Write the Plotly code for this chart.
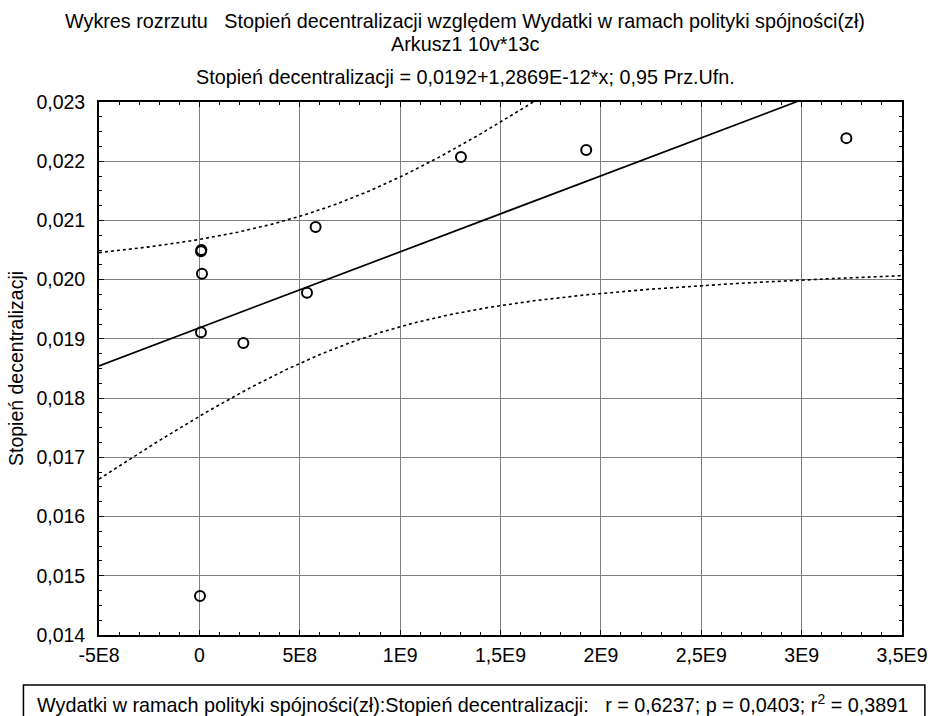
import numpy as np
import plotly.graph_objects as go

# Data (11 cases; two overlap near x=0, y=0,0205)
wydatki = [8e6, 1.0e7, 1.3e7, 8e6, 2.19e8, 5.36e8, 5.79e8, 1.303e9, 1.927e9, 3.223e9, 3e6]
decentralizacja = [0.02048, 0.02050, 0.02010, 0.01911, 0.01893, 0.01978, 0.02089, 0.02207, 0.02219, 0.02239, 0.01466]

x_tickvals = [-5e8, 0, 5e8, 1e9, 1.5e9, 2e9, 2.5e9, 3e9, 3.5e9]
x_ticktext = ["-5E8", "0", "5E8", "1E9", "1,5E9", "2E9", "2,5E9", "3E9", "3,5E9"]
y_tickvals = [0.014, 0.015, 0.016, 0.017, 0.018, 0.019, 0.020, 0.021, 0.022, 0.023]
y_ticktext = ["0,014", "0,015", "0,016", "0,017", "0,018", "0,019", "0,020", "0,021", "0,022", "0,023"]

T_CRIT = 2.262  # t(0.975, df=9)

x = np.array(wydatki)
y = np.array(decentralizacja)
n = len(x)
slope, intercept = np.polyfit(x, y, 1)
resid = y - (intercept + slope * x)
s = np.sqrt(np.sum(resid ** 2) / (n - 2))
xbar = x.mean()
sxx = np.sum((x - xbar) ** 2)

xs = np.linspace(-5e8, 3.5e9, 400)
yfit = intercept + slope * xs
half = T_CRIT * s * np.sqrt(1.0 / n + (xs - xbar) ** 2 / sxx)

FONT = "Liberation Sans, Arial, sans-serif"
FS = 19.5
FT = 19.8

fig = go.Figure()
fig.add_trace(go.Scatter(x=xs, y=yfit, mode="lines", line=dict(color="black", width=1.7), showlegend=False))
fig.add_trace(go.Scatter(x=xs, y=yfit + half, mode="lines", line=dict(color="black", width=1.6, dash="dot"), showlegend=False))
fig.add_trace(go.Scatter(x=xs, y=yfit - half, mode="lines", line=dict(color="black", width=1.6, dash="dot"), showlegend=False))
fig.add_trace(go.Scatter(x=wydatki, y=decentralizacja, mode="markers",
                         marker=dict(symbol="circle-open", size=10, color="black", line=dict(width=2)),
                         showlegend=False))

fig.update_layout(
    width=939, height=716,
    margin=dict(l=99, r=32, t=102, b=81),
    paper_bgcolor="white", plot_bgcolor="white",
    font=dict(family=FONT, size=FS, color="black"),
    xaxis=dict(range=[-5e8, 3.5e9], tickvals=x_tickvals, ticktext=x_ticktext,
               showgrid=True, gridcolor="#808080", gridwidth=1, zeroline=False,
               showline=True, linecolor="black", linewidth=1.8, mirror="allticks",
               ticks="inside", ticklen=5, tickcolor="black",
               minor=dict(dtick=1e8, ticks="inside", ticklen=3, tickcolor="black", showgrid=False),
               tickfont=dict(size=FS), ticklabelstandoff=2),
    yaxis=dict(range=[0.014, 0.023], tickvals=y_tickvals, ticktext=y_ticktext,
               showgrid=True, gridcolor="#808080", gridwidth=1, zeroline=False,
               showline=True, linecolor="black", linewidth=1.8, mirror="allticks",
               ticks="inside", ticklen=5, tickcolor="black",
               minor=dict(dtick=0.00025, ticks="inside", ticklen=3, tickcolor="black", showgrid=False),
               title=dict(text="Stopień decentralizacji", font=dict(size=FS), standoff=8),
               tickfont=dict(size=FS), ticklabelstandoff=8),
)

fig.add_annotation(text="Wykres rozrzutu   Stopień decentralizacji względem Wydatki w ramach polityki spójności(zł)",
                   xref="paper", yref="paper", x=0.456, y=1.152, showarrow=False,
                   font=dict(size=FT), xanchor="center", yanchor="middle")
fig.add_annotation(text="Arkusz1 10v*13c", xref="paper", yref="paper", x=0.456, y=1.109,
                   showarrow=False, font=dict(size=FT), xanchor="center", yanchor="middle")
fig.add_annotation(text="Stopień decentralizacji = 0,0192+1,2869E-12*x; 0,95 Prz.Ufn.",
                   xref="paper", yref="paper", x=0.456, y=1.047, showarrow=False,
                   font=dict(size=FT), xanchor="center", yanchor="middle")

fig.add_shape(type="rect", xref="paper", yref="paper", x0=-0.0941, x1=1.0285, y0=-0.0938, y1=-0.17,
              line=dict(color="black", width=1.5), fillcolor="rgba(0,0,0,0)")
fig.add_annotation(text="Wydatki w ramach polityki spójności(zł):Stopień decentralizacji:   r = 0,6237; p = 0,0403; r<sup>2</sup> = 0,3891",
                   xref="paper", yref="paper", x=-0.0792, y=-0.1285, showarrow=False,
                   font=dict(size=FT), xanchor="left", yanchor="middle")

fig.write_html("out.html", config={"displayModeBar": False},
               post_script="document.body.style.margin='0';document.body.style.overflow='hidden';")
